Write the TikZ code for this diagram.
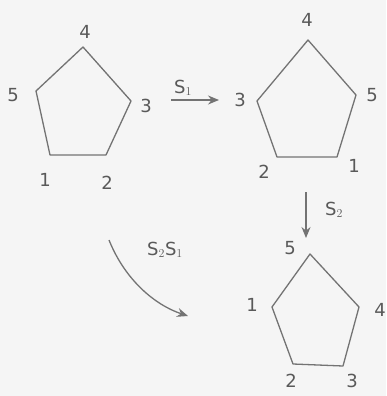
\documentclass[tikz,border=0pt]{standalone}
\usepackage{fontspec}
\setmainfont{DejaVu Sans}
\usetikzlibrary{arrows.meta}
\begin{document}
\begin{tikzpicture}[x=1pt,y=-1pt,
  pen/.style={draw=black!55, line width=1.3pt, line join=round},
  lbl/.style={text=black!65, font=\fontsize{18}{18}\selectfont, inner sep=0pt},
  arr/.style={pen, -{Stealth[length=11pt,width=9pt]}}]
\fill[white!96!black] (0,0) rectangle (386,396);
\useasboundingbox (0,0) rectangle (386,396);
% pentagon 1
\coordinate (a4) at (83,47);
\coordinate (a3) at (131,101);
\coordinate (a2) at (106,155);
\coordinate (a1) at (50,155);
\coordinate (a5) at (36,91);
\draw[pen] (a4) -- (a3) -- (a2) -- (a1) -- (a5) -- cycle;
\node[lbl] (la4) at (85,32) {4};
\node[lbl] (la5) at (13,95) {5};
\node[lbl] (la3) at (146,106) {3};
\node[lbl] (la1) at (45,180) {1};
\node[lbl] (la2) at (107,183) {2};
% pentagon 2
\coordinate (b4) at (308,40);
\coordinate (b5) at (356,95);
\coordinate (b1) at (337,157);
\coordinate (b2) at (277,157);
\coordinate (b3) at (257,101);
\draw[pen] (b4) -- (b5) -- (b1) -- (b2) -- (b3) -- cycle;
\node[lbl] (lb4) at (307,20) {4};
\node[lbl] (lb3) at (240,100) {3};
\node[lbl] (lb5) at (372,95) {5};
\node[lbl] (lb2) at (264,172) {2};
\node[lbl] (lb1) at (354,166) {1};
% pentagon 3
\coordinate (c5) at (310,254);
\coordinate (c4) at (359,307);
\coordinate (c3) at (343,366);
\coordinate (c2) at (293,364);
\coordinate (c1) at (272,307);
\draw[pen] (c5) -- (c4) -- (c3) -- (c2) -- (c1) -- cycle;
\node[lbl] (lc5) at (290,248) {5};
\node[lbl] (lc1) at (252,305) {1};
\node[lbl] (lc4) at (380,310) {4};
\node[lbl] (lc2) at (291,381) {2};
\node[lbl] (lc3) at (352,381) {3};
% arrows
\coordinate (s1a) at (171,100);
\coordinate (s1b) at (219,100);
\draw[arr] (s1a) -- (s1b);
\node[lbl] (ls1) at (183,88) {S$_1$};
\coordinate (s2a) at (306,192);
\coordinate (s2b) at (306,238);
\draw[arr] (s2a) -- (s2b);
\node[lbl] (ls2) at (334,210) {S$_2$};
\coordinate (s3a) at (109,240);
\coordinate (s3b) at (188,316);
\draw[arr] (s3a) .. controls (125,280) and (155,305) .. (s3b);
\node[lbl] (ls3) at (165,250) {S$_2$S$_1$};
\end{tikzpicture}
\end{document}
